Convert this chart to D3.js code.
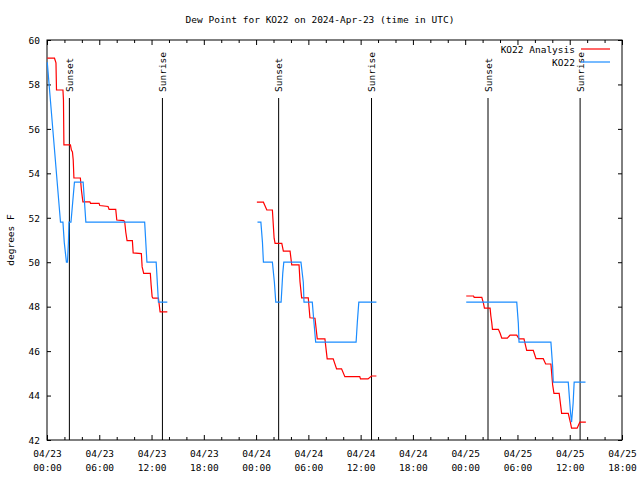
<!DOCTYPE html>
<html><head><meta charset="utf-8">
<script src="https://cdn.jsdelivr.net/npm/d3@7"></script>
<style>body{margin:0;background:#fff}</style>
</head><body><svg id="c" width="640" height="480"></svg>
<script>
const chartTitle = "Dew Point for KO22 on 2024-Apr-23 (time in UTC)";
const yLabel = "degrees F";
const startUTC = "2024-04-23T00:00:00Z";
const spanHours = 66;
const yTicks = [42, 44, 46, 48, 50, 52, 54, 56, 58, 60];
const seriesNames = ["KO22 Analysis", "KO22"];
const seriesColors = ["#ff0000", "#1a8cff"];

// hours since 2024-04-23 00:00 UTC; null = gap between segments
const analysisHours = [0.03,0.86,1.03,1.09,1.83,1.89,1.94,2.69,2.80,2.92,3.01,3.09,3.83,3.95,4.12,4.92,5.00,5.98,6.06,7.01,7.13,7.89,8.01,8.81,8.92,9.04,9.19,9.80,9.89,10.83,10.92,11.10,11.86,11.95,12.07,12.16,12.79,12.98,13.81,
  null,
  24.09,24.84,25.07,25.23,25.87,26.07,26.18,26.95,27.13,27.90,28.09,28.93,29.04,29.23,29.99,30.18,30.76,31.02,31.90,32.16,32.85,33.24,33.81,34.19,35.90,35.98,36.85,37.24,37.81,
  null,
  48.12,48.96,49.03,49.91,50.10,50.21,50.86,50.94,51.06,51.13,51.81,52.01,52.20,52.84,53.15,53.92,54.18,54.75,55.06,55.82,56.13,56.96,57.24,57.84,58.04,58.19,58.79,59.07,59.83,60.10,60.21,60.85,61.16,61.85];
const analysisDewF = [59.18,59.18,58.97,57.75,57.75,57.30,55.28,55.28,55.05,54.96,54.60,53.79,53.79,53.25,52.72,52.72,52.65,52.65,52.55,52.51,52.38,52.38,51.90,51.87,51.81,51.36,50.97,50.97,50.42,50.39,49.79,49.50,49.50,48.98,48.44,48.38,48.38,47.77,47.77,
  null,
  52.70,52.70,52.50,52.35,52.35,51.08,50.85,50.85,50.50,50.50,49.88,49.88,49.12,48.40,48.40,47.50,47.48,46.55,46.55,45.65,45.65,45.20,45.20,44.85,44.85,44.75,44.75,44.88,44.88,
  null,
  48.48,48.48,48.42,48.42,48.15,47.93,47.93,47.60,47.25,46.98,46.98,46.80,46.58,46.58,46.72,46.72,46.55,46.55,46.03,46.03,45.66,45.66,45.42,45.42,44.48,44.10,44.10,43.20,43.20,42.75,42.53,42.53,42.80,42.80];

const obsHours = [0.03,1.55,1.83,1.98,2.23,2.35,2.46,2.52,2.75,3.15,4.15,4.46,11.21,11.47,12.53,12.79,13.81,
  null,
  24.16,24.55,24.73,24.84,25.87,26.10,26.26,26.87,27.06,27.18,29.15,29.42,29.50,30.45,30.64,30.84,35.48,35.62,35.79,37.81,
  null,
  48.12,53.92,54.10,54.18,57.84,58.04,58.11,59.83,60.10,60.21,60.39,60.51,61.81];
const obsDewF = [59.0,51.8,51.8,50.9,50.0,50.0,50.9,51.8,51.8,53.6,53.6,51.8,51.8,50.0,50.0,48.2,48.2,
  null,
  51.8,51.8,50.9,50.0,50.0,49.1,48.2,48.2,49.5,50.0,50.0,49.1,48.2,48.2,47.3,46.4,46.4,47.3,48.2,48.2,
  null,
  48.2,48.2,47.25,46.4,46.4,45.3,44.6,44.6,43.2,42.8,43.65,44.6,44.6];

const sunsetHours = [2.57, 26.59, 50.62];
const sunriseHours = [13.25, 37.25, 61.19];

const FONT = "'DejaVu Sans Mono', monospace";
const FS = 9.5;
const start = new Date(startUTC);
const hourToDate = h => new Date(start.getTime() + h * 3600000);

const svg = d3.select("#c");
const L = 47, R = 622, T = 40, B = 440;
const x = d3.scaleUtc().domain([start, hourToDate(spanHours)]).range([L, R]);
const y = d3.scaleLinear().domain([42, 60]).range([B, T]);

const majorTicks = d3.utcHour.every(6).range(start, hourToDate(spanHours + 0.01));
const minorTicks = d3.utcHour.every(2).range(start, hourToDate(spanHours + 0.01)).filter(d => d.getUTCHours() % 6 !== 0);

function styleAxis(g) {
  g.select(".domain").remove();
  g.attr("font-family", FONT).attr("font-size", FS);
  g.selectAll(".tick line").attr("stroke", "#000");
  g.selectAll(".tick text").attr("fill", "#000");
}

// bottom axis
svg.append("g").attr("transform", `translate(0,${B})`)
  .call(d3.axisBottom(x).tickValues(minorTicks).tickSizeInner(-3).tickSizeOuter(0).tickFormat(""))
  .call(styleAxis);
const fmtD = d3.utcFormat("%m/%d"), fmtT = d3.utcFormat("%H:%M");
svg.append("g").attr("transform", `translate(0,${B})`)
  .call(d3.axisBottom(x).tickValues(majorTicks).tickSizeInner(-5).tickSizeOuter(0).tickFormat(d => ""))
  .call(styleAxis)
  .call(g => g.selectAll(".tick text").attr("y", null).attr("dy", null).each(function(d) {
    const t = d3.select(this);
    t.append("tspan").attr("x", 0).attr("y", 16.5).text(fmtD(d));
    t.append("tspan").attr("x", 0).attr("y", 30.5).text(fmtT(d));
  }));
// top axis
svg.append("g").attr("transform", `translate(0,${T})`)
  .call(d3.axisTop(x).tickValues(minorTicks).tickSizeInner(-3).tickSizeOuter(0).tickFormat(""))
  .call(styleAxis);
svg.append("g").attr("transform", `translate(0,${T})`)
  .call(d3.axisTop(x).tickValues(majorTicks).tickSizeInner(-5).tickSizeOuter(0).tickFormat(""))
  .call(styleAxis);
// left / right axes
svg.append("g").attr("transform", `translate(${L},0)`)
  .call(d3.axisLeft(y).tickValues(yTicks).tickSizeInner(-4).tickSizeOuter(0).tickPadding(7).tickFormat(d3.format("d")))
  .call(styleAxis)
  .call(g => g.selectAll(".tick text").attr("dy", "0.34em"));
svg.append("g").attr("transform", `translate(${R},0)`)
  .call(d3.axisRight(y).tickValues(yTicks).tickSizeInner(-4).tickSizeOuter(0).tickFormat(""))
  .call(styleAxis);

// border
svg.append("rect").attr("x", L).attr("y", T).attr("width", R - L).attr("height", B - T)
  .attr("fill", "none").attr("stroke", "#000").attr("stroke-width", 1);

// sun lines
const sunEvents = sunsetHours.map(h => ({h, label: "Sunset"}))
  .concat(sunriseHours.map(h => ({h, label: "Sunrise"})));
const sunG = svg.append("g");
sunEvents.forEach(e => {
  const xx = x(hourToDate(e.h));
  sunG.append("line").attr("x1", xx).attr("x2", xx).attr("y1", 98).attr("y2", B)
    .attr("stroke", "#000").attr("stroke-width", 1);
  sunG.append("text").attr("transform", `translate(${xx + 3.5},92) rotate(-90)`)
    .attr("font-family", FONT).attr("font-size", FS).attr("text-anchor", "start")
    .text(e.label);
});

// series
function toPoints(hours, vals) { return hours.map((h, i) => ({h, v: vals[i]})); }
const line = d3.line().defined(d => d.h != null && d.v != null)
  .x(d => x(hourToDate(d.h))).y(d => y(d.v));
svg.append("path").datum(toPoints(analysisHours, analysisDewF))
  .attr("d", line).attr("fill", "none").attr("stroke", seriesColors[0]).attr("stroke-width", 1.2);
svg.append("path").datum(toPoints(obsHours, obsDewF))
  .attr("d", line).attr("fill", "none").attr("stroke", seriesColors[1]).attr("stroke-width", 1.2);

// legend
seriesNames.forEach((n, i) => {
  const yy = 49 + i * 13;
  svg.append("text").attr("x", 575).attr("y", yy + 3.5).attr("text-anchor", "end")
    .attr("font-family", FONT).attr("font-size", FS).text(n);
  svg.append("line").attr("x1", 581).attr("x2", 610).attr("y1", yy).attr("y2", yy)
    .attr("stroke", seriesColors[i]).attr("stroke-width", 1.2);
});

// title & y label
svg.append("text").attr("x", 320).attr("y", 23).attr("text-anchor", "middle")
  .attr("font-family", FONT).attr("font-size", FS).text(chartTitle);
svg.append("text").attr("transform", "translate(14,240) rotate(-90)").attr("text-anchor", "middle")
  .attr("font-family", FONT).attr("font-size", FS).text(yLabel);
</script></body></html>
